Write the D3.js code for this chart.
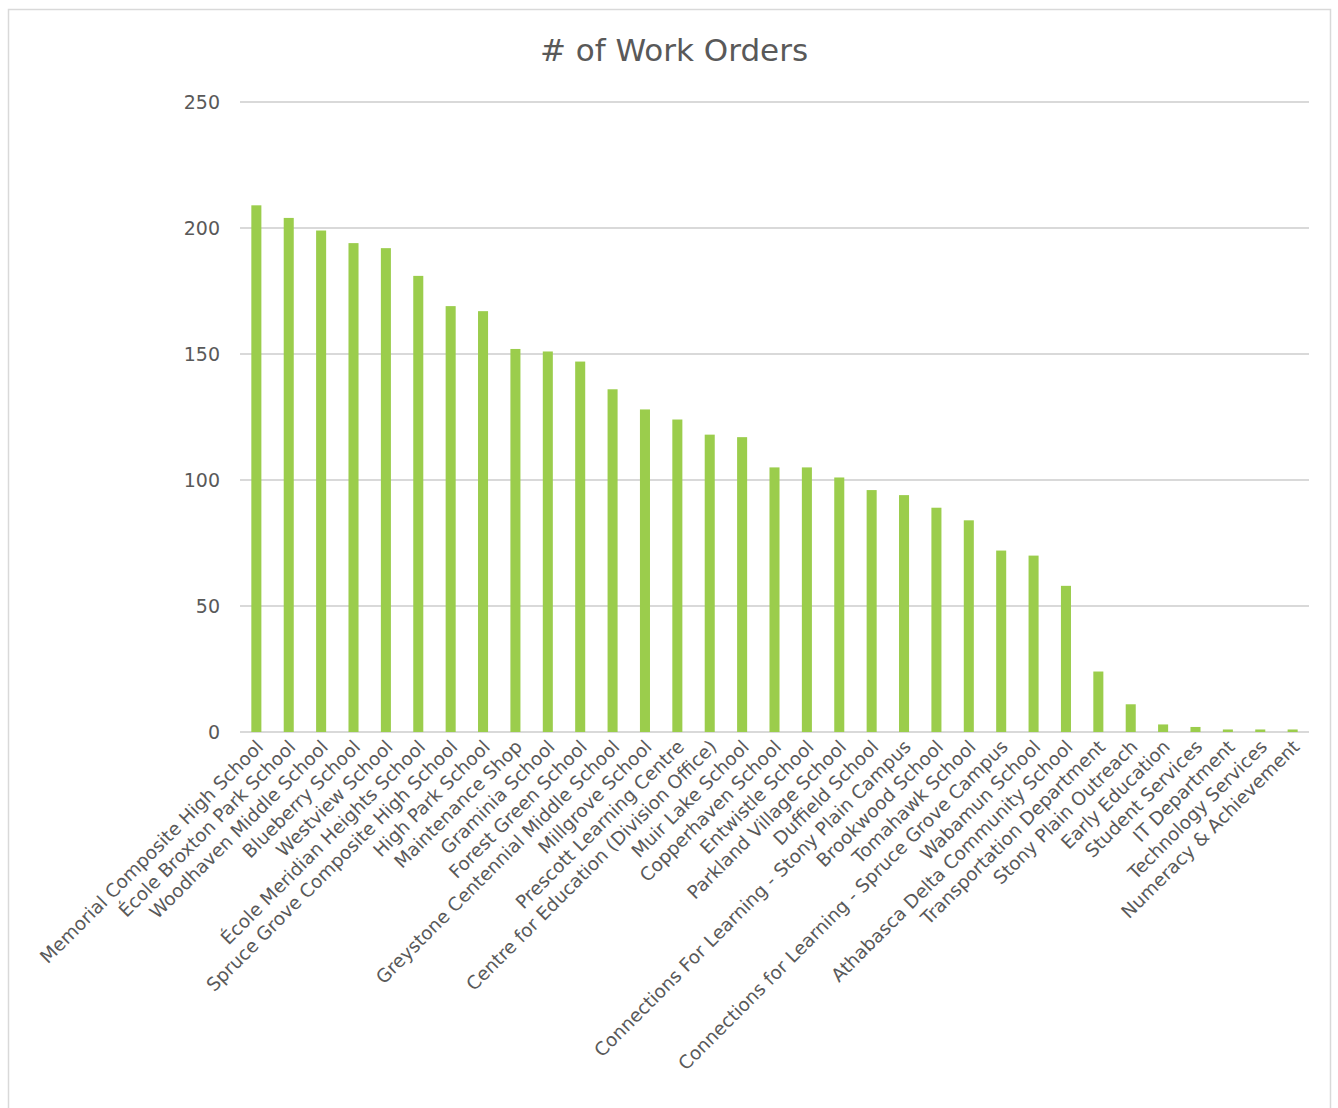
<!DOCTYPE html>
<html>
  <head>
    <meta charset="utf-8">
    <title># of Work Orders</title>
    <script type="text/javascript" src="https://cdn.jsdelivr.net/npm/d3@7"></script>
    <style type='text/css'>
      body { margin: 0; background: #fff; }
      text { font-family: "DejaVu Sans", sans-serif; fill: #595959; }
    </style>
  </head>
  <body>
    <script type="text/javascript">
      var w = 1338;
      var h = 1108;

      var categories = [
        'Memorial Composite High School', 'École Broxton Park School', 'Woodhaven Middle School',
        'Blueberry School', 'Westview School', 'École Meridian Heights School',
        'Spruce Grove Composite High School', 'High Park School', 'Maintenance Shop',
        'Graminia School', 'Forest Green School', 'Greystone Centennial Middle School',
        'Millgrove School', 'Prescott Learning Centre', 'Centre for Education (Division Office)',
        'Muir Lake School', 'Copperhaven School', 'Entwistle School', 'Parkland Village School',
        'Duffield School', 'Connections For Learning - Stony Plain Campus', 'Brookwood School',
        'Tomahawk School', 'Connections for Learning - Spruce Grove Campus', 'Wabamun School',
        'Athabasca Delta Community School', 'Transportation Department', 'Stony Plain Outreach',
        'Early Education', 'Student Services', 'IT Department', 'Technology Services',
        'Numeracy & Achievement'
      ];
      var workOrders = [209, 204, 199, 194, 192, 181, 169, 167, 152, 151, 147, 136, 128, 124, 118,
        117, 105, 105, 101, 96, 94, 89, 84, 72, 70, 58, 24, 11, 3, 2, 1, 1, 1];
      var yTicks = [0, 50, 100, 150, 200, 250];

      var plotLeft = 240, plotRight = 1309, plotTop = 102, plotBottom = 732;

      var svg = d3.select('body')
                  .append('svg')
                  .attr('width', w)
                  .attr('height', h);

      // chart frame
      svg.append('rect')
        .attr('x', 8.5).attr('y', 9.5)
        .attr('width', 1322).attr('height', 1120)
        .attr('fill', 'none')
        .attr('stroke', '#d9d9d9')
        .attr('stroke-width', 1.5);

      svg.append('text')
        .text('# of Work Orders')
        .attr('x', 674)
        .attr('y', 61)
        .attr('text-anchor', 'middle')
        .attr('font-size', '31px');

      var x = d3.scaleBand()
        .domain(categories)
        .range([plotLeft, plotRight])
        .paddingInner(0.69)
        .paddingOuter(0.35);

      var y = d3.scaleLinear()
        .domain([0, 250])
        .range([plotBottom, plotTop]);

      // gridlines
      svg.append('g')
        .selectAll('line')
        .data(yTicks)
        .enter()
        .append('line')
        .attr('x1', plotLeft).attr('x2', plotRight)
        .attr('y1', function(d) { return y(d); })
        .attr('y2', function(d) { return y(d); })
        .attr('stroke', '#d9d9d9')
        .attr('stroke-width', 2);

      svg.append('g')
        .selectAll('text')
        .data(yTicks)
        .enter()
        .append('text')
        .text(function(d) { return d; })
        .attr('x', 220)
        .attr('y', function(d) { return y(d) + 7; })
        .attr('text-anchor', 'end')
        .attr('font-size', '19px');

      svg.append('g')
        .selectAll('rect')
        .data(workOrders)
        .enter()
        .append('rect')
        .attr('x', function(d, i) { return x(categories[i]); })
        .attr('y', function(d) { return y(d); })
        .attr('width', x.bandwidth())
        .attr('height', function(d) { return plotBottom - y(d); })
        .attr('fill', '#9bcd4c');

      svg.append('g')
        .selectAll('text')
        .data(categories)
        .enter()
        .append('text')
        .text(function(d) { return d; })
        .attr('text-anchor', 'end')
        .attr('font-size', '18.5px')
        .attr('transform', function(d) {
          var cx = x(d) + x.bandwidth() / 2 + 8;
          return 'translate(' + cx + ',' + (plotBottom + 16) + ') rotate(-45)';
        });
    </script>
  </body>
</html>
